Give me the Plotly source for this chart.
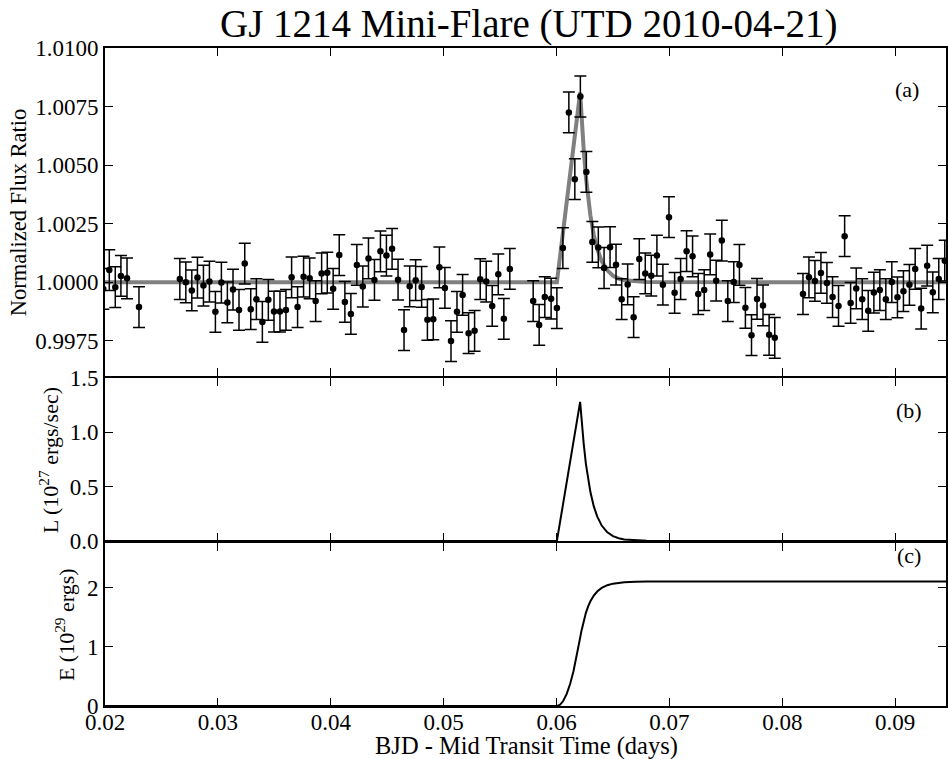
import plotly.graph_objects as go

# ---- Panel (a): observed flux ratio (BJD - mid transit, days) ----
TIME = [0.01985, 0.02038, 0.02091, 0.02141, 0.02195, 0.02301,
        0.02663, 0.02716, 0.02769, 0.02819, 0.02872, 0.02925, 0.02978, 0.03031,
        0.03084, 0.03134, 0.03187, 0.03238, 0.03291, 0.03341, 0.03394, 0.03447,
        0.03497, 0.03550, 0.03603, 0.03653, 0.03706, 0.03759, 0.03813, 0.03866,
        0.03919, 0.03969, 0.04021, 0.04075, 0.04125, 0.04178, 0.04231, 0.04284,
        0.04334, 0.04387, 0.04440, 0.04493, 0.04543, 0.04596, 0.04649, 0.04699,
        0.04752, 0.04805, 0.04856, 0.04908, 0.04962, 0.05011, 0.05065, 0.05118,
        0.05168, 0.05221, 0.05274, 0.05324, 0.05377, 0.05430, 0.05484, 0.05533,
        0.05586,
        0.05793, 0.05846, 0.05896, 0.05952, 0.06003, 0.06056, 0.06109, 0.06162,
        0.06211, 0.06264, 0.06317, 0.06370, 0.06421, 0.06474, 0.06527, 0.06577,
        0.06630, 0.06683, 0.06733, 0.06786, 0.06839, 0.06889, 0.06942, 0.06996,
        0.07046, 0.07099, 0.07152, 0.07205, 0.07255, 0.07308, 0.07361, 0.07414,
        0.07464, 0.07517, 0.07570, 0.07620, 0.07673, 0.07727, 0.07776, 0.07829,
        0.07883, 0.07933,
        0.08183, 0.08236, 0.08289, 0.08342, 0.08395, 0.08445, 0.08498, 0.08552,
        0.08605, 0.08655, 0.08708, 0.08761, 0.08811, 0.08864, 0.08917, 0.08970,
        0.09020, 0.09073, 0.09126, 0.09177, 0.09230, 0.09283, 0.09333, 0.09386,
        0.09439]
FLUX = [0.99972, 1.00052, 0.99979, 1.00027, 1.00017, 0.99894,
        1.00014, 1.00000, 0.99965, 1.00020, 0.99986, 1.00003, 0.99874, 0.99999,
        0.99914, 0.99969, 0.99882, 1.00080, 0.99885, 0.99928, 0.99831, 0.99925,
        0.99875, 0.99875, 0.99882, 1.00021, 0.99894, 1.00024, 1.00017, 0.99920,
        1.00038, 1.00041, 0.99972, 1.00116, 0.99916, 0.99865, 1.00074, 0.99982,
        1.00102, 1.00010, 1.00132, 1.00114, 1.00143, 1.00011, 0.99796, 0.99983,
        1.00009, 0.99980, 0.99840, 0.99842, 1.00064, 0.99976, 0.99749, 0.99874,
        0.99946, 0.99783, 0.99793, 1.00013, 1.00003, 0.99899, 1.00034, 0.99844,
        1.00057,
        0.99920, 0.99818, 0.99937, 0.99930, 0.99890, 1.00146, 1.00725, 1.00440,
        1.00793, 1.00471, 1.00172, 1.00149, 1.00061, 1.00150, 1.00075, 0.99928,
        0.99991, 0.99851, 1.00099, 1.00038, 1.00028, 1.00114, 0.99990, 1.00278,
        0.99955, 1.00014, 1.00133, 1.00111, 0.99950, 0.99967, 1.00119, 1.00007,
        1.00178, 0.99920, 1.00001, 1.00074, 0.99891, 0.99774, 0.99929, 0.99901,
        0.99776, 0.99763,
        0.99950, 1.00021, 1.00006, 1.00040, 0.99997, 0.99937, 0.99899, 1.00197,
        0.99912, 0.99974, 0.99928, 0.99878, 0.99956, 0.99967, 0.99928, 1.00001,
        0.99936, 0.99962, 0.99989, 1.00057, 0.99888, 1.00071, 0.99957, 1.00014,
        1.00092]
FLUX_ERR = 0.00087

# ---- Flare model ----
MODEL_T = [0.0200, 0.06003, 0.06209, 0.0622, 0.0624, 0.0626, 0.0628, 0.0630,
           0.0633, 0.0636, 0.0640, 0.0645, 0.0650, 0.0655, 0.0660, 0.0670,
           0.0680, 0.0945]
MODEL_FLUX = [1.0, 1.0, 1.0081, 1.00714, 1.0057, 1.00449, 1.00358, 1.00285,
              1.00201, 1.00143, 1.0009, 1.00051, 1.00028, 1.00016, 1.00009,
              1.00003, 1.00001, 1.0]
LUM = [0.0, 0.0, 1.28, 1.128, 0.90, 0.71, 0.566, 0.45, 0.318, 0.226, 0.142,
       0.080, 0.045, 0.025, 0.014, 0.0046, 0.0015, 0.0]

ENERGY_T = [0.0200, 0.06003, 0.0603, 0.0606, 0.0609, 0.0612, 0.0615, 0.0618,
            0.06209, 0.0622, 0.0624, 0.0626, 0.0628, 0.0630, 0.0633, 0.0636,
            0.0640, 0.0645, 0.0650, 0.0655, 0.0660, 0.0670, 0.0680, 0.0945]
ENERGY = [0.0, 0.0, 0.02, 0.088, 0.205, 0.371, 0.586, 0.849, 1.15, 1.263,
          1.435, 1.572, 1.68, 1.767, 1.863, 1.932, 1.993, 2.038, 2.064, 2.079,
          2.088, 2.096, 2.099, 2.10]

XTICKS = [0.02, 0.03, 0.04, 0.05, 0.06, 0.07, 0.08, 0.09]
YTICKS_A = [0.9975, 1.0000, 1.0025, 1.0050, 1.0075, 1.0100]
YTICKS_B = [0.0, 0.5, 1.0, 1.5]
YTICKS_C = [0, 1, 2]

FONT = "Liberation Serif"

W, H = 948, 759
L, R, T, B = 105, 0, 48, 53
pw, ph = W - L - R, H - T - B


def px(xp):
    return (xp - L) / pw


def py(yp):
    return (H - B - yp) / ph


fig = go.Figure()

fig.add_trace(go.Scatter(x=MODEL_T, y=MODEL_FLUX, mode="lines",
                         line=dict(color="#808080", width=4), hoverinfo="skip",
                         xaxis="x", yaxis="y"))
fig.add_trace(go.Scatter(x=TIME, y=FLUX, mode="markers",
                         marker=dict(color="black", size=6.5),
                         error_y=dict(type="constant", value=FLUX_ERR,
                                      color="black", thickness=1.5, width=6),
                         xaxis="x", yaxis="y"))
fig.add_trace(go.Scatter(x=MODEL_T, y=LUM, mode="lines",
                         line=dict(color="black", width=2),
                         xaxis="x2", yaxis="y2"))
fig.add_trace(go.Scatter(x=ENERGY_T, y=ENERGY, mode="lines",
                         line=dict(color="black", width=2),
                         xaxis="x3", yaxis="y3"))

axis_common = dict(showline=True, linecolor="black", linewidth=2,
                   mirror="ticks", ticks="inside", ticklen=8, tickwidth=1,
                   tickcolor="black", showgrid=False, zeroline=False,
                   tickfont=dict(family=FONT, size=23, color="black"))

# domains with 2px gaps so that neighbouring spines coincide
dom_a = [py(376), py(48)]
dom_b = [py(541), py(378)]
dom_c = [py(706), py(543)]

xa = dict(range=[0.02, 0.0945], tickvals=XTICKS,
          ticktext=[f"{v:.2f}" for v in XTICKS], domain=[0, 1], **axis_common)

fig.update_layout(
    xaxis=dict(xa, anchor="y", showticklabels=False),
    xaxis2=dict(xa, anchor="y2", matches="x", showticklabels=False),
    xaxis3=dict(xa, anchor="y3", matches="x", showticklabels=True,
                ticklabelstandoff=-6),
    yaxis=dict(range=[0.996, 1.010], tickvals=YTICKS_A,
               ticktext=[f"{v:.4f}" for v in YTICKS_A], domain=dom_a,
               anchor="x", **axis_common),
    yaxis2=dict(range=[0, 1.5], tickvals=YTICKS_B,
                ticktext=[f"{v:.1f}" for v in YTICKS_B], domain=dom_b,
                anchor="x2", **axis_common),
    yaxis3=dict(range=[0, 2.75], tickvals=YTICKS_C,
                ticktext=[str(v) for v in YTICKS_C], domain=dom_c,
                anchor="x3", **axis_common),
)

txt = dict(family=FONT, color="black")
annotations = [
    dict(text="Normalized Flux Ratio", x=px(18), y=py(213), textangle=-90,
         font=dict(size=22.5, **txt)),
    dict(text="L (10<sup>27</sup> ergs/sec)", x=px(49), y=py(460), textangle=-90,
         font=dict(size=22, **txt)),
    dict(text="E (10<sup>29</sup> ergs)", x=px(65), y=py(625), textangle=-90,
         font=dict(size=22, **txt)),
    dict(text="BJD - Mid Transit Time (days)", x=px(528), y=py(746),
         font=dict(size=24.5, **txt)),
    dict(text="(a)", x=px(909), y=py(89), font=dict(size=22, **txt)),
    dict(text="(b)", x=px(911), y=py(410), font=dict(size=22, **txt)),
    dict(text="(c)", x=px(911), y=py(555), font=dict(size=22, **txt)),
    dict(text="GJ 1214 Mini-Flare (UTD 2010-04-21)", x=px(530), y=py(24),
         font=dict(size=39, **txt)),
]
for a in annotations:
    a.update(xref="paper", yref="paper", showarrow=False,
             xanchor="center", yanchor="middle")

fig.update_layout(width=W, height=H, margin=dict(l=L, r=R, t=T, b=B),
                  paper_bgcolor="white", plot_bgcolor="white",
                  showlegend=False, annotations=annotations,
                  font=dict(family=FONT, color="black"))

fig.write_html("out.html")
